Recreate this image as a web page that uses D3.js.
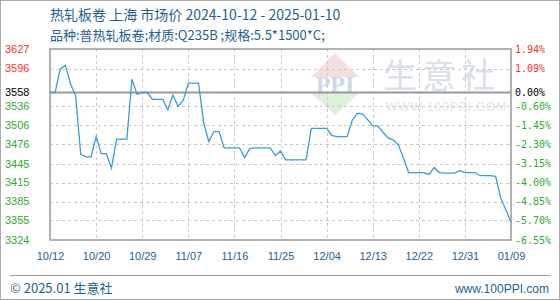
<!DOCTYPE html>
<html>
<head>
<meta charset="utf-8">
<script src="https://cdn.jsdelivr.net/npm/d3@7"></script>
<style>
  body { margin: 0; background: #fff; }
  svg { display: block; }
</style>
</head>
<body>
<svg id="chart" width="560" height="300"></svg>
<script>
// chart data (daily prices, 2024-10-12 .. 2025-01-10)
let prices = [
  3558, 3558, 3595, 3601, 3572, 3553, 3460, 3456, 3456, 3488,
  3461, 3461, 3438, 3484, 3484, 3484, 3579, 3555, 3558, 3558,
  3547, 3547, 3547, 3531, 3554, 3536, 3545, 3573, 3573, 3573,
  3510, 3480, 3496, 3496, 3470, 3470, 3470, 3470, 3455, 3469,
  3470, 3470, 3470, 3470, 3458, 3465, 3451, 3451, 3451, 3451,
  3451, 3501, 3501, 3501, 3501, 3490, 3488, 3488, 3488, 3514,
  3525, 3524, 3515, 3505, 3505, 3495, 3486, 3483, 3475, 3454,
  3431, 3431, 3431, 3431, 3428, 3439, 3431, 3430, 3430, 3430,
  3434, 3431, 3431, 3431, 3426, 3426, 3426, 3425, 3390, 3372,
  3352
];
let xTickLabels = ["10/12", "10/20", "10/29", "11/07", "11/16", "11/25", "12/04", "12/13", "12/22", "12/31", "01/09"];
let yTicks = [3627, 3596, 3558, 3536, 3506, 3476, 3445, 3415, 3385, 3355, 3324];
let pctLabels = ["1.94%", "1.09%", "0.00%", "-0.60%", "-1.45%", "-2.30%", "-3.15%", "-4.00%", "-4.85%", "-5.70%", "-6.55%"];
let basePrice = 3558;
let yMin = 3324, yMax = 3627;

let titleLine1 = "热轧板卷 上海 市场价 2024-10-12 - 2025-01-10";
let titleLine2 = "品种:普热轧板卷;材质:Q235B ;规格:5.5*1500*C;";

let plotLeft = 50, plotRight = 511, plotTop = 49, plotBottom = 240;
let textBlue = "#1e5f8e";
let red = "#f03030", green = "#2faa2f";

let svg = d3.select("#chart");

// outer frame
svg.append("rect")
  .attr("x", 0.5).attr("y", 0.5)
  .attr("width", 559).attr("height", 299)
  .attr("fill", "none").attr("stroke", "#aaa");

let x = d3.scaleLinear().domain([0, prices.length - 1]).range([plotLeft, plotRight]);
let xTick = d3.scalePoint().domain(xTickLabels).range([plotLeft, plotRight]);
let y = d3.scaleLinear().domain([yMin, yMax]).range([plotBottom, plotTop]);

// watermark
let wm = svg.append("g");
let cx = 335, cy = 93;
wm.append("path")
  .attr("d", `M${cx},${cy - 40} L${cx + 24},${cy - 16} L${cx - 24},${cy - 16} Z`)
  .attr("fill", "#f7dede");
wm.append("path")
  .attr("d", `M${cx - 24},${cy} L${cx + 24},${cy} L${cx},${cy + 22} Z`)
  .attr("fill", "#dcf0dc");
wm.append("text")
  .attr("x", cx).attr("y", cy - 1)
  .attr("text-anchor", "middle")
  .attr("font-family", "Liberation Serif, serif")
  .attr("font-weight", "bold")
  .attr("font-size", 24)
  .attr("fill", "#cdd8ea")
  .text("PPI");
wm.append("text")
  .attr("x", 383).attr("y", 88)
  .attr("font-family", "Noto Sans CJK SC, sans-serif")
  .attr("font-size", 34)
  .attr("letter-spacing", 5)
  .attr("fill", "#d9e0ea")
  .text("生意社");
wm.append("text")
  .attr("x", 386).attr("y", 111)
  .attr("font-family", "Liberation Sans, Arial, sans-serif")
  .attr("font-size", 12)
  .attr("letter-spacing", 1)
  .attr("fill", "#e4e4e4")
  .text("WWW.100PPI.COM");

// grid lines
svg.append("g").selectAll("line")
  .data(yTicks.filter(d => d != yMin && d != yMax && d != basePrice))
  .enter().append("line")
  .attr("x1", plotLeft).attr("x2", plotRight)
  .attr("y1", d => Math.round(y(d)) + 0.5).attr("y2", d => Math.round(y(d)) + 0.5)
  .attr("stroke", "#c8c8c8").attr("stroke-dasharray", "3,3");
svg.append("g").selectAll("line")
  .data(xTickLabels.slice(1, -1))
  .enter().append("line")
  .attr("x1", d => Math.round(xTick(d)) + 0.5).attr("x2", d => Math.round(xTick(d)) + 0.5)
  .attr("y1", plotTop).attr("y2", plotBottom)
  .attr("stroke", "#c8c8c8").attr("stroke-dasharray", "3,3");

// base price line
svg.append("line")
  .attr("x1", plotLeft).attr("x2", plotRight)
  .attr("y1", y(basePrice)).attr("y2", y(basePrice))
  .attr("stroke", "#999").attr("stroke-width", 2);

// plot frame
svg.append("rect")
  .attr("x", plotLeft).attr("y", plotTop)
  .attr("width", plotRight - plotLeft).attr("height", plotBottom - plotTop)
  .attr("fill", "none").attr("stroke", "#999").attr("stroke-width", 1.5);

// price line
let line = d3.line().x((d, i) => x(i)).y(d => y(d));
svg.append("path")
  .datum(prices)
  .attr("d", line)
  .attr("fill", "none")
  .attr("stroke", "#3b9bd8")
  .attr("stroke-width", 1.3);

function tickColor(i) {
  if (yTicks[i] > basePrice) return red;
  if (yTicks[i] == basePrice) return "#000";
  return green;
}

// left axis labels
svg.append("g").selectAll("text")
  .data(yTicks)
  .enter().append("text")
  .attr("x", 5)
  .attr("y", d => y(d))
  .attr("dy", "0.35em")
  .attr("font-family", "Liberation Sans, Arial, sans-serif")
  .attr("font-size", 11)
  .attr("fill", (d, i) => tickColor(i))
  .text(d => d);

// right axis labels
svg.append("g").selectAll("text")
  .data(pctLabels)
  .enter().append("text")
  .attr("x", 515)
  .attr("y", (d, i) => y(yTicks[i]))
  .attr("dy", "0.35em")
  .attr("font-family", "DejaVu Sans Mono, monospace")
  .attr("font-size", 10)
  .attr("fill", (d, i) => tickColor(i))
  .text(d => d);

// x axis labels
let xAxis = d3.axisBottom(xTick).tickSize(0).tickPadding(12);
let xg = svg.append("g")
  .attr("transform", "translate(0," + plotBottom + ")")
  .call(xAxis);
xg.select(".domain").remove();
xg.selectAll("text")
  .attr("font-family", "Liberation Sans, Arial, sans-serif")
  .attr("font-size", 11)
  .attr("fill", textBlue);

// titles
svg.append("text")
  .attr("x", 50).attr("y", 20)
  .attr("font-family", "Noto Sans CJK SC, sans-serif")
  .attr("font-size", 14)
  .attr("fill", textBlue)
  .text(titleLine1);
svg.append("text")
  .attr("x", 50).attr("y", 40)
  .attr("font-family", "Noto Sans CJK SC, sans-serif")
  .attr("font-size", 13)
  .attr("fill", textBlue)
  .text(titleLine2);

// footer
svg.append("line")
  .attr("x1", 10).attr("x2", 551)
  .attr("y1", 275.5).attr("y2", 275.5)
  .attr("stroke", "#999");
svg.append("text")
  .attr("x", 10).attr("y", 293)
  .attr("font-family", "Noto Sans CJK SC, sans-serif")
  .attr("font-size", 13)
  .attr("fill", textBlue)
  .text("© 2025.01 生意社");
svg.append("text")
  .attr("x", 549).attr("y", 293)
  .attr("text-anchor", "end")
  .attr("font-family", "Liberation Sans, Arial, sans-serif")
  .attr("font-size", 12)
  .attr("fill", textBlue)
  .text("www.100PPI.com");
</script>
</body>
</html>
